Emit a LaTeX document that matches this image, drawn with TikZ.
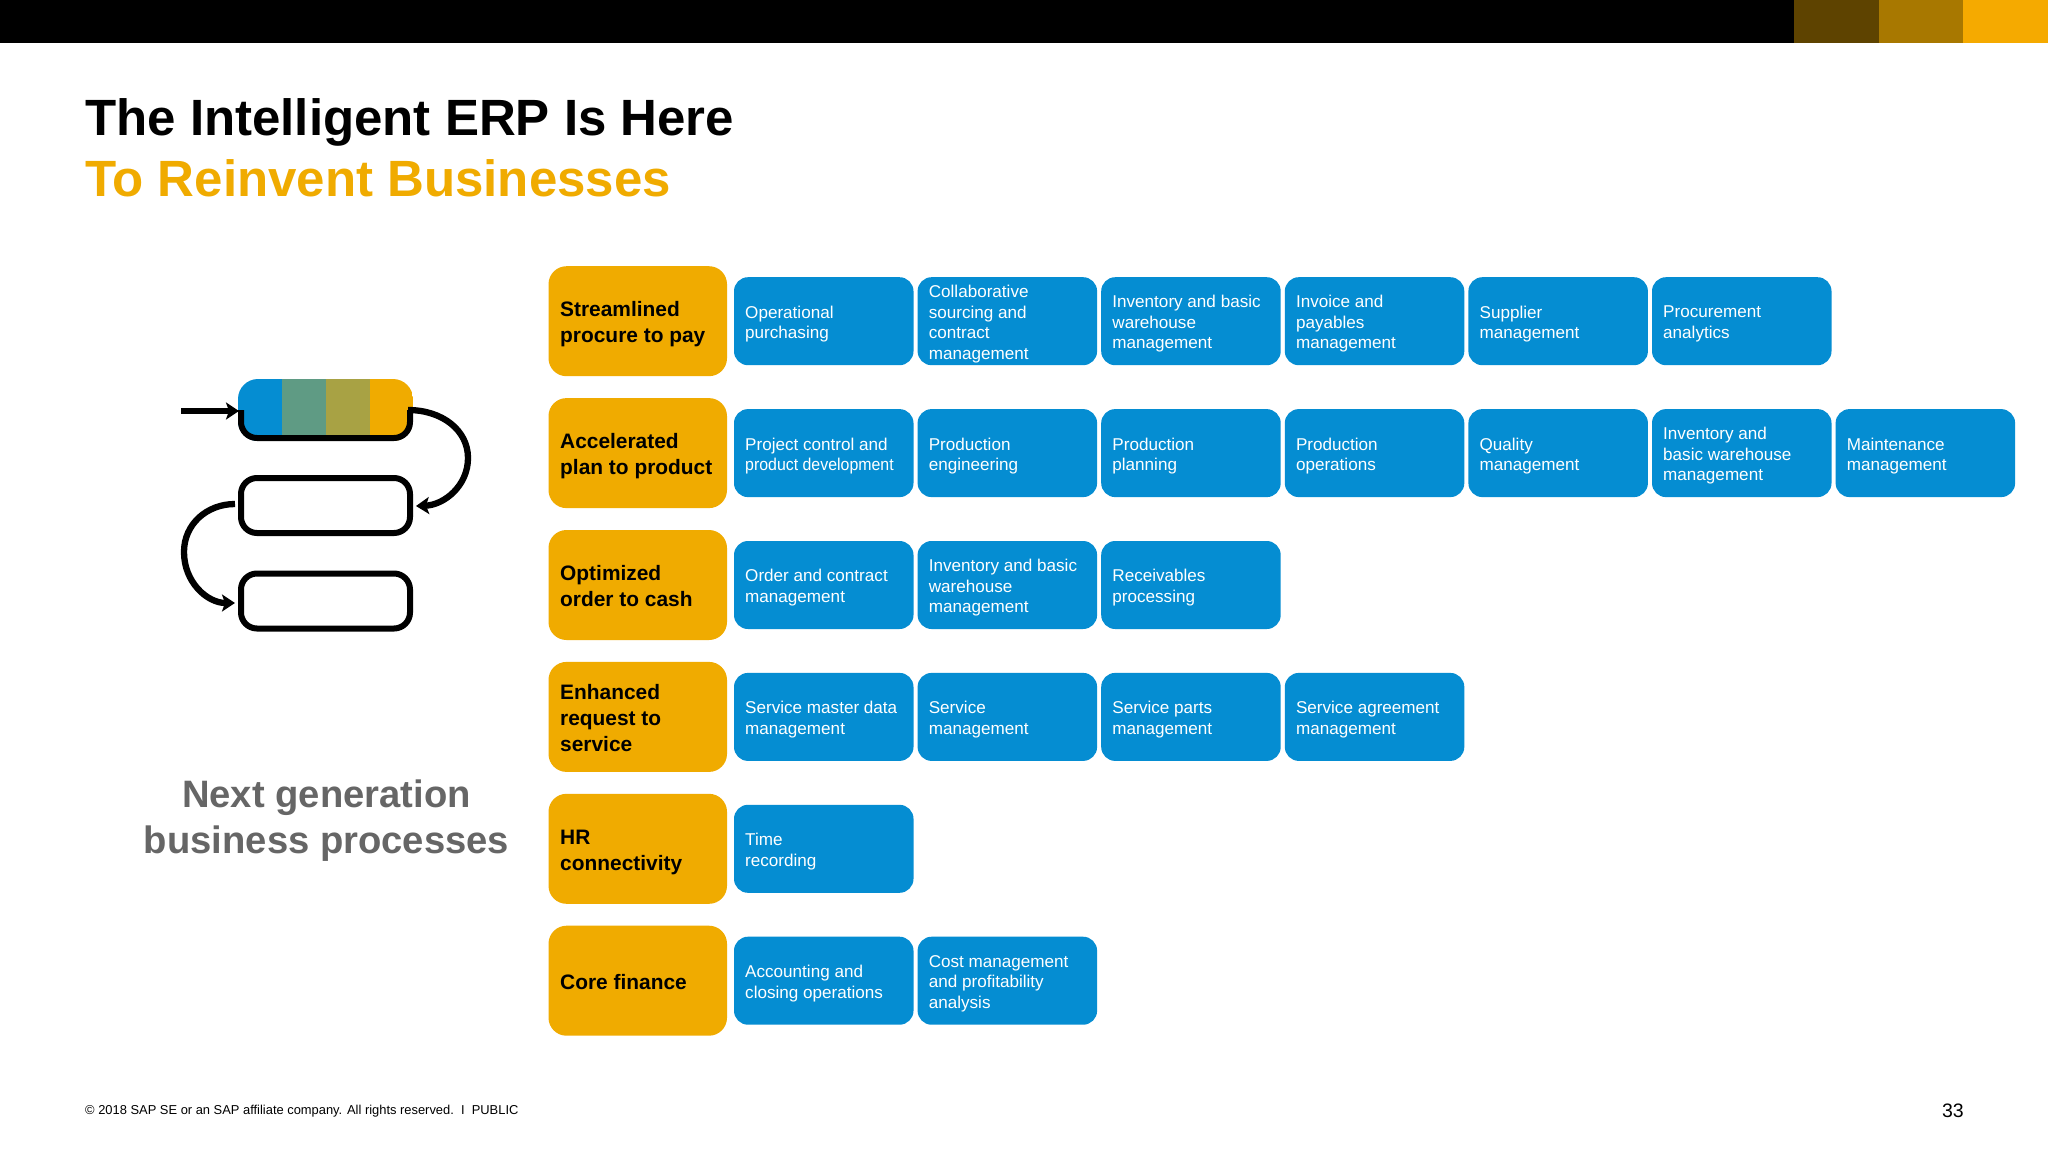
\documentclass[tikz,border=0pt]{standalone}
\usepackage{fontspec}
\setmainfont{Liberation Sans}
\usetikzlibrary{arrows.meta}
\definecolor{sapblue}{HTML}{058DD2}
\definecolor{sapgold}{HTML}{F0AB00}
\definecolor{barbrown}{HTML}{5E4300}
\definecolor{barochre}{HTML}{A87800}
\definecolor{baryellow}{HTML}{F5AA00}
\definecolor{stripeb}{HTML}{5F9B84}
\definecolor{stripec}{HTML}{A8A244}
\definecolor{capgray}{HTML}{666666}
\tikzset{
  x=1pt,y=-1pt,
  procbox/.style={anchor=west,inner xsep=0,inner ysep=0,
    text width=172,align=flush left,text=white,font=\fontsize{17.1}{20.5}\selectfont},
  headbox/.style={anchor=west,inner xsep=0,inner ysep=0,
    text width=170,align=flush left,text=black,font=\fontsize{20.9}{25.8}\selectfont\bfseries},
  procfill/.style={fill=sapblue,rounded corners=14},
  headfill/.style={fill=sapgold,rounded corners=18},
  flowbox/.style={draw=black,line width=6,rounded corners=16,minimum width=169,minimum height=55,inner sep=0},
  flowarrow/.style={draw=black,line width=6.3,-{Stealth[length=13,width=17,inset=3]}},
  barseg/.style={draw=none,minimum height=42.5,inner sep=0,anchor=north west},
}
\newcommand{\Hb}[3]{\fill[headfill] (548.5,{266.2+(#2-1)*131.9}) rectangle (727,{376.2+(#2-1)*131.9});
  \node[headbox] (h#1) at (560,{324.6+(#2-1)*131.9}) {\strut #3\strut};}
\newcommand{\Pb}[4]{\fill[procfill] ({734+(#2-1)*183.6},{277.2+(#3-1)*131.9}) rectangle ({913.5+(#2-1)*183.6},{365.2+(#3-1)*131.9});
  \node[procbox] (p#1) at ({745+(#2-1)*183.6},{324+(#3-1)*131.9}) {#4};}
\begin{document}
\begin{tikzpicture}
\useasboundingbox (0,0) rectangle (2048,1152);
\fill[white] (0,0) rectangle (2048,1152);
% top bar
\node[barseg,fill=black,minimum width=1794] (bar0) at (0,0) {};
\node[barseg,fill=barbrown,minimum width=85] (bar1) at (1794,0) {};
\node[barseg,fill=barochre,minimum width=84] (bar2) at (1879,0) {};
\node[barseg,fill=baryellow,minimum width=85] (bar3) at (1963,0) {};
% titles
\node[anchor=base west,inner sep=0,font=\fontsize{51}{56}\selectfont\bfseries] (title1) at (85,135) {The Intelligent ERP Is Here};
\node[anchor=base west,inner sep=0,text=sapgold,font=\fontsize{51}{56}\selectfont\bfseries] (title2) at (85,196) {To Reinvent Businesses};
% left caption
\node[align=center,inner sep=0,text=capgray,font=\fontsize{38.2}{45.5}\selectfont\bfseries] (caption) at (326.5,820.6) {Next generation\\business processes};
% flow figure: coloured first box
\begin{scope}
  \clip[rounded corners=20] (238,379) rectangle (413,441);
  \fill[sapblue] (238,379) rectangle (282,441);
  \fill[stripeb] (282,379) rectangle (326,441);
  \fill[stripec] (326,379) rectangle (370,441);
  \fill[sapgold] (370,379) rectangle (413,441);
\end{scope}
\draw[black,line width=6,rounded corners=16] (241,410) -- (241,438) -- (410,438) -- (410,410);
\coordinate (flowin) at (181,411);
\coordinate (box1w) at (239,411);
\coordinate (box1e) at (408,410);
\node[flowbox] (box2) at (325.5,505.5) {};
\node[flowbox] (box3) at (325.5,601) {};
\draw[flowarrow] (flowin) -- (box1w);
\draw[flowarrow] (box1e) .. controls (442,410) and (468,430) .. (468,458)
   .. controls (468,486) and (444,505) .. ([xshift=3]box2.east |- 0,506);
\draw[flowarrow] ([xshift=-3]box2.west |- 0,504) .. controls (207,504) and (184,524) .. (184,552)
   .. controls (184,582) and (207,603) .. ([xshift=-3]box3.west |- 0,603);
% rows
\Hb{1}{1}{Streamlined\\procure to pay}
\Hb{2}{2}{Accelerated\\plan to product}
\Hb{3}{3}{Optimized\\order to cash}
\Hb{4}{4}{Enhanced\\request to\\service}
\Hb{5}{5}{HR\\connectivity}
\Hb{6}{6}{Core finance}
\Pb{11}{1}{1}{Operational\\purchasing}
\Pb{12}{2}{1}{Collaborative\\sourcing and\\contract\\management}
\Pb{13}{3}{1}{Inventory and basic\\warehouse\\management}
\Pb{14}{4}{1}{Invoice and\\payables\\management}
\Pb{15}{5}{1}{Supplier\\management}
\Pb{16}{6}{1}{Procurement\\analytics}
\Pb{21}{1}{2}{Project control and\\\scalebox{0.93}[1]{product development}}
\Pb{22}{2}{2}{Production\\engineering}
\Pb{23}{3}{2}{Production\\planning}
\Pb{24}{4}{2}{Production\\operations}
\Pb{25}{5}{2}{Quality\\management}
\Pb{26}{6}{2}{Inventory and\\basic warehouse\\management}
\Pb{27}{7}{2}{Maintenance\\management}
\Pb{31}{1}{3}{Order and contract\\management}
\Pb{32}{2}{3}{Inventory and basic\\warehouse\\management}
\Pb{33}{3}{3}{Receivables\\processing}
\Pb{41}{1}{4}{Service master data\\management}
\Pb{42}{2}{4}{Service\\management}
\Pb{43}{3}{4}{Service parts\\management}
\Pb{44}{4}{4}{Service agreement\\management}
\Pb{51}{1}{5}{Time\\recording}
\Pb{61}{1}{6}{Accounting and\\closing operations}
\Pb{62}{2}{6}{Cost management\\and profitability\\analysis}
% footer
\node[anchor=base west,inner sep=0,font=\fontsize{12.9}{16}\selectfont] (footer) at (85,1114.5) {© 2018 SAP SE or an SAP affiliate company. All rights reserved.\ \ I\ \ PUBLIC};
\node[anchor=base east,inner sep=0,font=\fontsize{19.5}{22}\selectfont] (pageno) at (1964,1117) {33};
\end{tikzpicture}
\end{document}
